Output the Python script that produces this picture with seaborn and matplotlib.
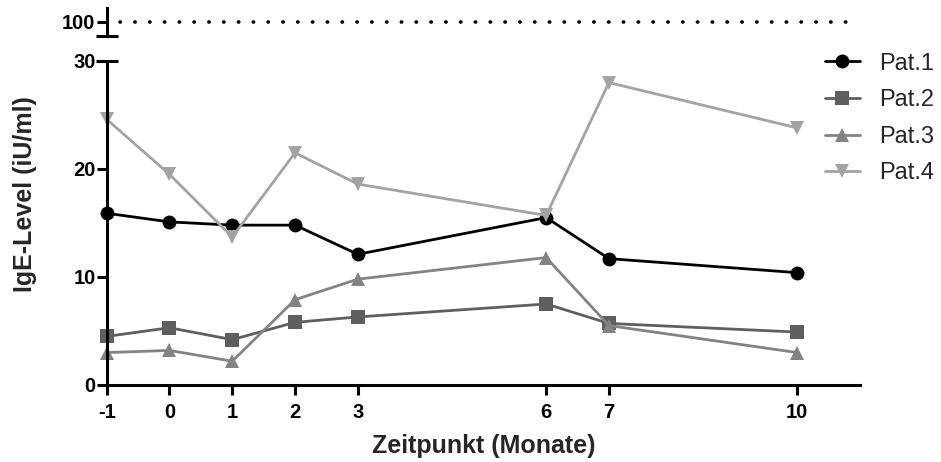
import numpy as np
import pandas as pd
import matplotlib
matplotlib.use("Agg")
import matplotlib.pyplot as plt
import seaborn as sns

# time points (months) and IgE levels per patient
months = [-1, 0, 1, 2, 3, 6, 7, 10]
pat1 = [15.9, 15.1, 14.8, 14.8, 12.1, 15.5, 11.7, 10.4]
pat2 = [4.5, 5.3, 4.2, 5.8, 6.3, 7.5, 5.7, 4.9]
pat3 = [3.0, 3.2, 2.2, 7.9, 9.8, 11.8, 5.5, 3.0]
pat4 = [24.6, 19.5, 13.7, 21.5, 18.6, 15.7, 28.0, 23.8]
patients = ["Pat.1", "Pat.2", "Pat.3", "Pat.4"]
colors = ["#000000", "#5f5f5f", "#838383", "#a3a3a3"]
markers = ["o", "s", "^", "v"]

rows = []
for name, vals in zip(patients, [pat1, pat2, pat3, pat4]):
    for m, v in zip(months, vals):
        rows.append({"Zeitpunkt": m, "IgE": v, "Patient": name})
df = pd.DataFrame(rows)

sns.set_style("white")
plt.rcParams["font.family"] = ["Liberation Sans", "DejaVu Sans"]

fig = plt.figure(figsize=(9.41, 4.62), dpi=100)
ax = fig.add_axes([0.1134, 0.1667, 0.8006, 0.7013])
ax_top = fig.add_axes([0.1134, 0.922, 0.8006, 0.061])

sns.lineplot(data=df, x="Zeitpunkt", y="IgE", hue="Patient", style="Patient",
             palette=colors, markers=markers, dashes=False, linewidth=2.0,
             markersize=10, markeredgewidth=0, ax=ax)
for ln in ax.lines:
    ln.set_clip_on(False)

tick_fs = 14.5
ax.set_xlim(-1, 11)
ax.set_ylim(0, 30)
ax.set_xticks(months)
ax.set_xticklabels([str(m) for m in months])
ax.set_yticks([0, 10, 20, 30])
for s in ["top", "right"]:
    ax.spines[s].set_visible(False)
for s in ["left", "bottom"]:
    ax.spines[s].set_linewidth(2.2)
    ax.spines[s].set_color("black")
ax.tick_params(axis="both", direction="out", length=7, width=2.2, labelsize=tick_fs,
               colors="black")
ax.tick_params(axis="x", pad=6, bottom=True)
ax.tick_params(axis="y", pad=1, left=True)
for lab in ax.get_xticklabels() + ax.get_yticklabels():
    lab.set_fontweight("bold")
ax.set_xlabel("Zeitpunkt (Monate)", fontsize=18, fontweight="bold")
ax.set_ylabel("IgE-Level (iU/ml)", fontsize=18, fontweight="bold")
ax.xaxis.set_label_coords(0.5, -0.152)
ax.yaxis.set_label_coords(-0.093, 0.59)
# cap at top of the lower axis segment
ax.plot([0], [1], marker="_", markersize=16, mew=2.2, color="black",
        transform=ax.transAxes, clip_on=False)

# upper segment with the 100 reference line
ax_top.set_xlim(-1, 11)
ax_top.set_ylim(95, 105)
ax_top.set_yticks([100])
ax_top.set_xticks([])
for s in ["top", "right", "bottom"]:
    ax_top.spines[s].set_visible(False)
ax_top.spines["left"].set_linewidth(2.2)
ax_top.spines["left"].set_color("black")
ax_top.tick_params(axis="y", direction="out", length=7, width=2.2, labelsize=tick_fs,
                   pad=1, colors="black", left=True)
for lab in ax_top.get_yticklabels():
    lab.set_fontweight("bold")
ax_top.patch.set_alpha(0)
ax_top.plot([0], [0], marker="_", markersize=16, mew=2.2, color="black",
            transform=ax_top.transAxes, clip_on=False)
ax_top.axhline(100, xmin=0.018, xmax=0.995, color="black", linestyle=(0, (0.1, 4)),
               linewidth=2.6, dash_capstyle="round")

leg = ax.legend(loc="upper left", bbox_to_anchor=(0.953, 1.026), frameon=False,
                fontsize=17, handlelength=1.5, labelspacing=0.62,
                handletextpad=0.8, borderpad=0, borderaxespad=0)
for h in leg.legend_handles:
    h.set_linewidth(2.0)

fig.savefig("out.png", dpi=100)
